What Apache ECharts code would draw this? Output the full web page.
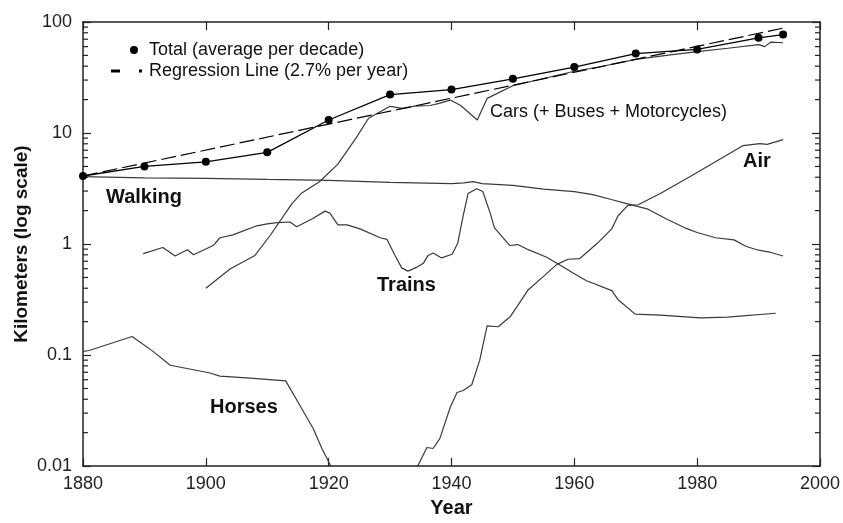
<!DOCTYPE html>
<html>
<head>
<meta charset="utf-8">
<script src="https://cdn.jsdelivr.net/npm/echarts@6/dist/echarts.min.js"></script>
<style>
html, body { margin: 0; padding: 0; background: #fff; }
#chart { width: 843px; height: 523px; }
</style>
</head>
<body>
<div id="chart"></div>
<script>
const FONT = '"Liberation Sans", Arial, sans-serif';

// tick labels
const yTickLabels = ['0.01', '0.1', '1', '10', '100'];
const xTickLabels = ['1880', '1900', '1920', '1940', '1960', '1980', '2000'];

// Total (average per decade)
const totalYears = [1880, 1890, 1900, 1910, 1920, 1930, 1940, 1950, 1960, 1970, 1980, 1990, 1994];
const totalVals = [4.1, 5.0, 5.5, 6.7, 13.1, 22.2, 24.6, 30.8, 39.3, 52, 56.6, 72, 77];

// Regression line (2.7% per year), straight on log scale
const regYears = [1880, 1994];
const regVals = [4.1, 88];

const walkYears = [1880, 1890, 1900, 1910, 1920, 1930, 1940, 1942, 1943.5, 1945, 1950, 1955, 1960, 1963, 1966, 1969, 1972, 1975, 1978, 1980, 1983, 1986, 1988, 1990, 1992, 1994];
const walkVals = [4.05, 3.95, 3.9, 3.82, 3.75, 3.6, 3.5, 3.55, 3.65, 3.5, 3.38, 3.12, 2.97, 2.79, 2.52, 2.28, 2.06, 1.68, 1.4, 1.27, 1.14, 1.09, 0.95, 0.88, 0.84, 0.78];

const carYears = [1900, 1904, 1908, 1910.5, 1914, 1915.5, 1918.5, 1921.5, 1924.5, 1926.5, 1930, 1932, 1934, 1936.5, 1938, 1939.8, 1941.5, 1944.2, 1945.8, 1950, 1955, 1960, 1964, 1970, 1975, 1980, 1985, 1990, 1991, 1992, 1994];
const carVals = [0.4, 0.6, 0.79, 1.2, 2.3, 2.85, 3.64, 5.24, 9.1, 13.6, 17.4, 16.7, 17.5, 17.7, 18.5, 19.8, 17.7, 13.1, 20.5, 26.7, 31, 36, 39.3, 46, 50, 54, 58, 62.6, 60, 66, 65];

const trainYears = [1889.8, 1893, 1895, 1897, 1898, 1901.2, 1902.3, 1904.4, 1908.3, 1910, 1911.6, 1913.7, 1914.8, 1917.5, 1919.4, 1920.2, 1921.5, 1923, 1925.1, 1928.4, 1929.5, 1930.8, 1931.9, 1932.9, 1934.4, 1935.4, 1936.2, 1937, 1938.4, 1940.1, 1941, 1941.9, 1942.7, 1944.1, 1945.1, 1946.3, 1947, 1949.5, 1950.8, 1952.5, 1955.5, 1957.7, 1960.9, 1962, 1966.1, 1967.1, 1969.9, 1974, 1980.5, 1984.9, 1992.8];
const trainVals = [0.82, 0.93, 0.78, 0.89, 0.8, 0.97, 1.14, 1.21, 1.46, 1.52, 1.56, 1.58, 1.43, 1.71, 1.98, 1.9, 1.49, 1.49, 1.37, 1.14, 1.1, 0.79, 0.61, 0.57, 0.62, 0.67, 0.79, 0.83, 0.75, 0.81, 1.01, 1.79, 2.85, 3.15, 2.97, 1.9, 1.4, 0.97, 0.99, 0.89, 0.76, 0.645, 0.506, 0.467, 0.381, 0.317, 0.234, 0.229, 0.216, 0.22, 0.238];

const airYears = [1933, 1934.5, 1936, 1937, 1938.1, 1939.8, 1940.9, 1941.9, 1943.3, 1944.6, 1945.8, 1947.6, 1949.5, 1950.7, 1952.5, 1954.9, 1957.2, 1959, 1960.9, 1963.7, 1966.1, 1967.1, 1968.7, 1970.4, 1974, 1978.8, 1987.5, 1990.2, 1991.4, 1994];
const airVals = [0.008, 0.01, 0.0147, 0.0144, 0.0177, 0.0339, 0.046, 0.048, 0.054, 0.09, 0.183, 0.18, 0.22, 0.275, 0.388, 0.506, 0.66, 0.73, 0.74, 1.01, 1.37, 1.79, 2.23, 2.26, 2.85, 4.03, 7.71, 8.03, 7.9, 8.71];

const horseYears = [1880, 1881, 1888, 1891.4, 1894.2, 1900.7, 1902.3, 1907.2, 1913, 1915.3, 1917.5, 1918.9, 1920.2, 1921.5];
const horseVals = [0.108, 0.11, 0.147, 0.108, 0.081, 0.069, 0.0647, 0.062, 0.0586, 0.0353, 0.0217, 0.0144, 0.0104, 0.007];

function zip(xs, ys) {
    return xs.map((x, i) => [x, ys[i]]);
}

// minor log ticks 2..9 in each decade
const minorTicks = [];
[0.01, 0.1, 1, 10].forEach(d => {
    for (let k = 2; k <= 9; k++) minorTicks.push(+(d * k).toPrecision(3));
});

const lineGray = '#3a3a3a';

function plainLine(name, xs, ys) {
    return {
        name: name,
        type: 'line',
        data: zip(xs, ys),
        showSymbol: false,
        symbol: 'none',
        lineStyle: { color: lineGray, width: 1.2 },
        itemStyle: { color: lineGray },
        silent: true,
    };
}

let option = {
    backgroundColor: '#fff',
    animation: false,
    textStyle: { fontFamily: FONT },
    grid: { left: 83, right: 23, top: 22, bottom: 48 },
    legend: {
        left: 106,
        top: 36,
        orient: 'vertical',
        itemWidth: 33,
        itemHeight: 8,
        itemGap: 3,
        selectedMode: false,
        itemStyle: { borderWidth: 0 },
        textStyle: { fontSize: 18, color: '#111', fontFamily: FONT, lineHeight: 18 },
        data: [
            {
                name: 'Total (average per decade)',
                icon: 'path://M0,0L0.01,0M33,8L33.01,8M19,4a4,4 0 1,0 8,0a4,4 0 1,0 -8,0Z',
            },
            {
                name: 'Regression Line (2.7% per year)',
                icon: 'path://M0,0L0.01,0M33,8L33.01,8M0,2.5h9v3h-9zM28,2.5h3v3h-3z',
            },
        ],
    },
    xAxis: [
        {
            type: 'value',
            min: 1880,
            max: 2000,
            interval: 20,
            name: 'Year',
            nameLocation: 'middle',
            nameGap: 28,
            nameTextStyle: { fontSize: 20, fontWeight: 'bold', color: '#111', fontFamily: FONT },
            axisLine: { lineStyle: { color: '#222', width: 1.5 } },
            axisTick: { inside: true, length: 8, lineStyle: { color: '#222', width: 1.2 } },
            axisLabel: {
                fontSize: 18,
                color: '#222',
                margin: 9,
                fontFamily: FONT,
                formatter: v => xTickLabels[Math.round((v - 1880) / 20)],
            },
            splitLine: { show: false },
        },
        {
            type: 'value',
            position: 'top',
            min: 1880,
            max: 2000,
            interval: 20,
            axisLine: { show: true, lineStyle: { color: '#222', width: 1.5 } },
            axisTick: { show: true, inside: true, length: 8, lineStyle: { color: '#222', width: 1.2 } },
            axisLabel: { show: false },
            splitLine: { show: false },
        },
    ],
    yAxis: [
        {
            type: 'log',
            logBase: 10,
            min: 0.01,
            max: 100,
            name: 'Kilometers (log scale)',
            nameLocation: 'middle',
            nameGap: 52,
            nameMoveOverlap: false,
            nameTextStyle: { fontSize: 19, fontWeight: 'bold', color: '#111', fontFamily: FONT },
            axisLine: { show: true, lineStyle: { color: '#222', width: 1.5 } },
            axisTick: { show: true, inside: true, length: 8, lineStyle: { color: '#222', width: 1.2 } },
            axisLabel: {
                fontSize: 18,
                color: '#222',
                margin: 11,
                fontFamily: FONT,
                formatter: v => yTickLabels[Math.round(Math.log10(v)) + 2],
            },
            splitLine: { show: false },
        },
        {
            type: 'log',
            logBase: 10,
            min: 0.01,
            max: 100,
            position: 'right',
            axisLine: { show: true, lineStyle: { color: '#222', width: 1.5 } },
            axisTick: { show: true, inside: true, length: 8, lineStyle: { color: '#222', width: 1.2 } },
            axisLabel: { show: false },
            splitLine: { show: false },
        },
    ],
    graphic: [
        { type: 'text', left: 106, top: 187, style: { text: 'Walking', font: 'bold 20px ' + FONT, fill: '#111' } },
        { type: 'text', left: 377, top: 275, style: { text: 'Trains', font: 'bold 20px ' + FONT, fill: '#111' } },
        { type: 'text', left: 210, top: 397, style: { text: 'Horses', font: 'bold 20px ' + FONT, fill: '#111' } },
        { type: 'text', left: 743, top: 151, style: { text: 'Air', font: 'bold 20px ' + FONT, fill: '#111' } },
        { type: 'text', left: 490, top: 103, style: { text: 'Cars (+ Buses + Motorcycles)', font: '18px ' + FONT, fill: '#111' } },
    ],
    series: [
        {
            type: 'custom',
            silent: true,
            xAxisIndex: 0,
            yAxisIndex: 0,
            clip: false,
            data: minorTicks.map(v => [1880, v]),
            renderItem: function (params, api) {
                const v = api.value(1);
                const l = api.coord([1880, v]);
                const r = api.coord([2000, v]);
                return {
                    type: 'group',
                    children: [
                        { type: 'line', shape: { x1: l[0], y1: l[1], x2: l[0] + 5, y2: l[1] }, style: { stroke: '#222', lineWidth: 1.2 } },
                        { type: 'line', shape: { x1: r[0], y1: r[1], x2: r[0] - 5, y2: r[1] }, style: { stroke: '#222', lineWidth: 1.2 } },
                    ],
                };
            },
        },
        plainLine('Walking', walkYears, walkVals),
        plainLine('Cars', carYears, carVals),
        plainLine('Trains', trainYears, trainVals),
        plainLine('Air', airYears, airVals),
        plainLine('Horses', horseYears, horseVals),
        {
            name: 'Regression Line (2.7% per year)',
            type: 'line',
            data: zip(regYears, regVals),
            showSymbol: false,
            symbol: 'none',
            lineStyle: { color: '#000', width: 1.2, type: [15, 5] },
            itemStyle: { color: '#000' },
            silent: true,
        },
        {
            name: 'Total (average per decade)',
            type: 'line',
            data: zip(totalYears, totalVals),
            symbol: 'circle',
            symbolSize: 8,
            lineStyle: { color: '#000', width: 1.3 },
            itemStyle: { color: '#000' },
            silent: true,
        },
    ],
};

let chart = echarts.init(document.getElementById('chart'));
chart.setOption(option);
</script>
</body>
</html>
